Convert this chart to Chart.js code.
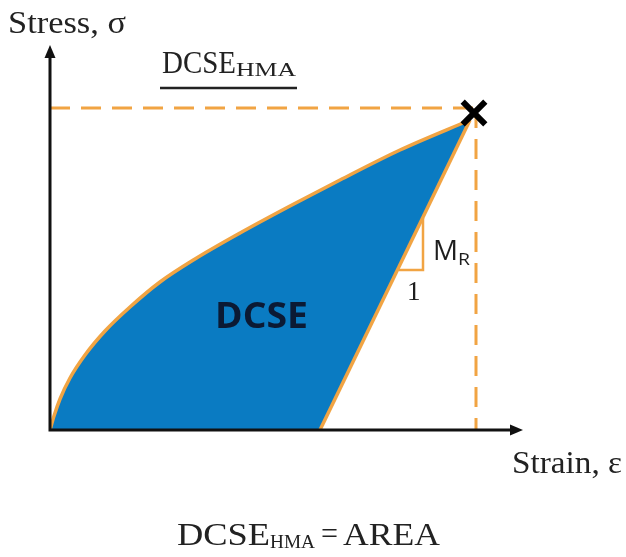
<!DOCTYPE html>
<html>
<head>
<meta charset="utf-8">
<script src="https://cdn.jsdelivr.net/npm/chart.js@4/dist/chart.umd.min.js"></script>
<style>
  html, body { margin: 0; padding: 0; background: #ffffff; }
  #wrap { width: 626px; height: 557px; position: relative; }
</style>
</head>
<body>
<div id="wrap"><canvas id="c" width="626" height="557"></canvas></div>
<script>
// Loading curve (strain, stress) from the origin up to peak load
const loadStrain = [0, 4, 10, 20, 35, 55, 80, 110, 145, 190, 240, 290, 350, 420];
const loadStress = [0, 14, 31, 52, 75, 99, 123, 148, 171, 197, 224, 250, 280, 310];
// Unloading line with slope M_R, from the residual strain back up to the peak
const unloadStrain = [270, 420];
const unloadStress = [0, 310];
// Peak point (marked with an X) and the guide lines reaching the axes
const peakStrain = 424;
const peakStress = 317;
const guideStrain = 426;
const guideStress = 322;
// Little slope triangle on the unloading line (run of 1, rise of M_R)
const slopeStrain = [349, 373, 373];
const slopeStress = [160, 160, 212];
// Axis extent
const strainMax = 480;
const stressMax = 390;
const strainArrow = 473;
const stressArrow = 385;

const BLUE = '#0a7bc2';
const ORANGE = '#f1a443';
const pts = (xs, ys) => xs.map((x, i) => ({ x, y: ys[i] }));

const axesPlugin = {
  id: 'axesArrows',
  afterDatasetsDraw(chart) {
    const { ctx, scales: { x, y } } = chart;
    const x0 = x.getPixelForValue(0), y0 = y.getPixelForValue(0);
    const xe = x.getPixelForValue(strainArrow), ye = y.getPixelForValue(stressArrow);
    ctx.save();
    ctx.strokeStyle = '#111';
    ctx.fillStyle = '#111';
    ctx.lineWidth = 3;
    ctx.beginPath();
    ctx.moveTo(x0, ye + 10);
    ctx.lineTo(x0, y0 + 1.5);
    ctx.moveTo(x0 - 1.5, y0);
    ctx.lineTo(xe - 10, y0);
    ctx.stroke();
    ctx.beginPath();
    ctx.moveTo(x0, ye);
    ctx.lineTo(x0 - 5.5, ye + 13);
    ctx.lineTo(x0 + 5.5, ye + 13);
    ctx.closePath();
    ctx.fill();
    ctx.beginPath();
    ctx.moveTo(xe, y0);
    ctx.lineTo(xe - 13, y0 - 5.5);
    ctx.lineTo(xe - 13, y0 + 5.5);
    ctx.closePath();
    ctx.fill();
    ctx.restore();
  }
};

// Draws text left-aligned at (x, base), squeezed or widened to the given width
function fitText(ctx, text, x, base, font, width) {
  ctx.save();
  ctx.font = font;
  ctx.textAlign = 'left';
  const natural = ctx.measureText(text).width;
  ctx.translate(x, base);
  ctx.scale(width / natural, 1);
  ctx.fillText(text, 0, 0);
  ctx.restore();
}

const labelsPlugin = {
  id: 'labels',
  afterDraw(chart) {
    const { ctx, scales: { x, y } } = chart;
    const y0 = y.getPixelForValue(0);
    const serif = '"Liberation Serif", "Times New Roman", serif';
    const sans = '"Open Sans", "Liberation Sans", sans-serif';
    ctx.save();
    ctx.textBaseline = 'alphabetic';
    ctx.fillStyle = '#222';

    // axis titles
    fitText(ctx, 'Stress, \u03c3', 8, 33, '31px ' + serif, 118);
    fitText(ctx, 'Strain, \u03b5', 512, y0 + 43, '31px ' + serif, 110);

    // underlined heading
    fitText(ctx, 'DCSE', 162, 73, '31px ' + serif, 74);
    fitText(ctx, 'HMA', 236, 76, '19px ' + serif, 60);
    ctx.strokeStyle = '#222';
    ctx.lineWidth = 2.5;
    ctx.beginPath();
    ctx.moveTo(160, 88);
    ctx.lineTo(297, 88);
    ctx.stroke();

    // formula below
    fitText(ctx, 'DCSE', 177, 545, '31px ' + serif, 93);
    fitText(ctx, 'HMA', 270, 548, '19px ' + serif, 45);
    fitText(ctx, '=', 321, 544, '31px ' + serif, 17);
    fitText(ctx, 'AREA', 343, 545, '31px ' + serif, 97);

    // area label
    ctx.fillStyle = '#0b1a34';
    fitText(ctx, 'DCSE', x.getPixelForValue(165), y.getPixelForValue(102), 'bold 35px ' + sans, 93);

    // slope labels
    ctx.fillStyle = '#1e1e1e';
    fitText(ctx, 'M', x.getPixelForValue(383), y.getPixelForValue(170), '28px ' + sans, 25);
    fitText(ctx, 'R', x.getPixelForValue(408), y.getPixelForValue(165), '17px ' + sans, 12);
    ctx.font = '27px ' + serif;
    ctx.fillText('1', x.getPixelForValue(357), y.getPixelForValue(130));
    ctx.restore();
  }
};

new Chart(document.getElementById('c'), {
  type: 'scatter',
  data: {
    datasets: [
      { // peak marker
        data: [{ x: peakStrain, y: peakStress }],
        pointStyle: 'crossRot', pointRadius: 16, pointBorderWidth: 6,
        borderColor: '#000', backgroundColor: '#000', showLine: false
      },
      { // slope triangle
        data: pts(slopeStrain, slopeStress), showLine: true, fill: false,
        borderColor: ORANGE, borderWidth: 2.5, pointRadius: 0
      },
      { // horizontal guide to the stress axis
        data: [{ x: 0, y: guideStress }, { x: guideStrain, y: guideStress }],
        showLine: true, fill: false, borderColor: ORANGE, borderWidth: 3,
        borderDash: [20, 11], pointRadius: 0
      },
      { // vertical guide to the strain axis
        data: [{ x: guideStrain, y: guideStress }, { x: guideStrain, y: 0 }],
        showLine: true, fill: false, borderColor: ORANGE, borderWidth: 3,
        borderDash: [20, 11], pointRadius: 0
      },
      { // unloading line: clears the area beneath it
        data: pts(unloadStrain, unloadStress), showLine: true,
        fill: 'origin', backgroundColor: '#ffffff',
        borderColor: ORANGE, borderWidth: 3.5, pointRadius: 0
      },
      { // loading curve with the dissipated energy area
        data: pts(loadStrain, loadStress), showLine: true,
        cubicInterpolationMode: 'monotone',
        fill: 'origin', backgroundColor: BLUE,
        borderColor: ORANGE, borderWidth: 3.5, pointRadius: 0
      }
    ]
  },
  options: {
    responsive: false,
    animation: false,
    events: [],
    layout: { padding: { left: 50, right: 96, top: 40, bottom: 127 } },
    scales: {
      x: { type: 'linear', min: 0, max: strainMax, display: false },
      y: { type: 'linear', min: 0, max: stressMax, display: false }
    },
    plugins: {
      legend: { display: false },
      tooltip: { enabled: false },
      filler: { drawTime: 'beforeDatasetsDraw' }
    }
  },
  plugins: [axesPlugin, labelsPlugin]
});
</script>
</body>
</html>
